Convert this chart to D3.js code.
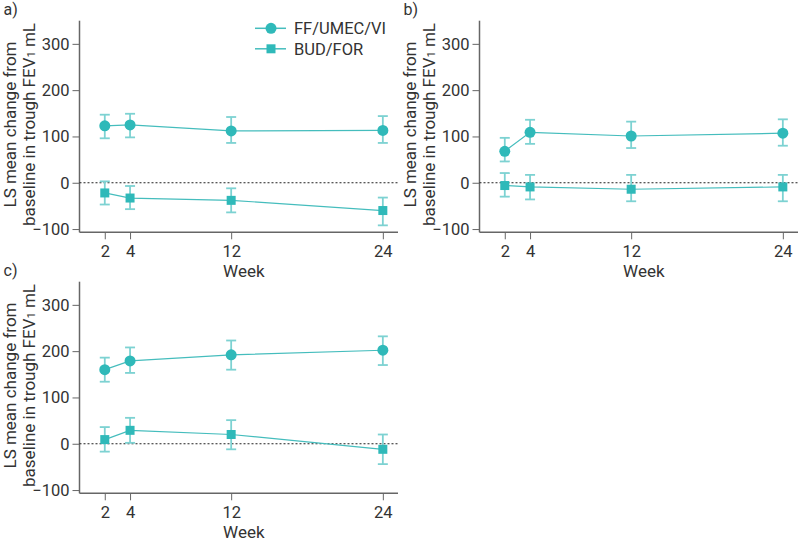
<!DOCTYPE html>
<meta charset="utf-8">
<html>
<head>
  <script src="https://d3js.org/d3.v7.min.js"></script>
  <style>
    body { margin: 0; background: #fff; font-family: Roboto, sans-serif; }
    text { fill: #333; }
    .axis path, .axis line { stroke: #666; }
    .axis text { font-size: 16.5px; fill: #333; font-family: Roboto, sans-serif; }
  </style>
</head>
<body>
  <svg width="798" height="542"></svg>
  <script>
    const weeks = [2, 4, 12, 24];
    const yTicks = [-100, 0, 100, 200, 300];
    const series = ["FF/UMEC/VI", "BUD/FOR"];
    const panels = ["a)", "b)", "c)"];

    // mean, lower, upper per week
    const aTriple = [123, 125, 112, 113];
    const aTripleLo = [96, 98, 86, 86];
    const aTripleHi = [147, 149, 142, 144];
    const aBud = [-22, -33, -38, -60];
    const aBudLo = [-47, -57, -64, -92];
    const aBudHi = [3, -7, -12, -32];

    const bTriple = [68, 109, 101, 107];
    const bTripleLo = [46, 84, 75, 80];
    const bTripleHi = [97, 136, 132, 137];
    const bBud = [-6, -9, -14, -9];
    const bBudLo = [-30, -36, -40, -40];
    const bBudHi = [21, 17, 17, 17];

    const cTriple = [160, 179, 192, 202];
    const cTripleLo = [134, 153, 160, 170];
    const cTripleHi = [186, 208, 223, 232];
    const cBud = [9, 29, 20, -12];
    const cBudLo = [-17, 2, -12, -44];
    const cBudHi = [36, 56, 51, 20];

    const teal = "#2fb9b9", tealLight = "#7dd2d2", tealLine = "#45bdbd";

    const svg = d3.select("svg");
    const w = 318.5, h = 211.6;

    const x = d3.scaleLinear().domain([0, 25.2]).range([0, w]);
    const y = d3.scaleLinear().domain([-107, 350]).range([h, 0]);

    const panelData = [
      {label: panels[0], dx: 79.5, dy: 20.7, sets: [[aTriple, aTripleLo, aTripleHi], [aBud, aBudLo, aBudHi]], legend: true},
      {label: panels[1], dx: 479.5, dy: 20.7, sets: [[bTriple, bTripleLo, bTripleHi], [bBud, bBudLo, bBudHi]]},
      {label: panels[2], dx: 79.5, dy: 281.7, sets: [[cTriple, cTripleLo, cTripleHi], [cBud, cBudLo, cBudHi]]}
    ];

    panelData.forEach(p => {
      const g = svg.append("g").attr("transform", `translate(${p.dx},${p.dy})`);

      svg.append("text")
        .attr("x", p.dx - 76).attr("y", p.dy - 6)
        .style("font-size", "16px")
        .text(p.label);

      g.append("g").attr("class", "axis")
        .call(d3.axisLeft(y).tickValues(yTicks).tickSize(7).tickPadding(3).tickFormat(d => d < 0 ? "\u2212" + Math.abs(d) : d))
        .call(s => s.select(".domain").attr("d", `M0,0V${h}`).attr("stroke-width", 1.5));

      g.append("g").attr("class", "axis")
        .attr("transform", `translate(0,${h})`)
        .call(d3.axisBottom(x).tickValues(weeks).tickSize(7).tickPadding(6))
        .call(s => s.select(".domain").attr("d", `M0,0H${w}`).attr("stroke-width", 1.5));

      g.append("text")
        .attr("x", x(13)).attr("y", h + 45)
        .attr("text-anchor", "middle")
        .style("font-size", "17px")
        .text("Week");

      const yl = g.append("text")
        .attr("transform", `translate(-64,${h / 2 - 2}) rotate(-90)`)
        .attr("text-anchor", "middle")
        .style("font-size", "17px");
      yl.append("tspan").attr("x", 0).attr("dy", "0").text("LS mean change from");
      yl.append("tspan").attr("x", 0).attr("dy", "19").text("baseline in trough FEV");
      yl.append("tspan").style("font-size", "11px").text("1");
      yl.append("tspan").text(" mL");

      g.append("line")
        .attr("x1", 0).attr("x2", w)
        .attr("y1", y(0)).attr("y2", y(0))
        .attr("stroke", "#222").attr("stroke-width", 1)
        .attr("stroke-dasharray", "2,2");

      p.sets.forEach((set, si) => {
        const pts = weeks.map((wk, i) => ({wk, m: set[0][i], lo: set[1][i], hi: set[2][i]}));

        g.append("path")
          .datum(pts)
          .attr("fill", "none")
          .attr("stroke", tealLine)
          .attr("stroke-width", 1.2)
          .attr("d", d3.line().x(d => x(d.wk)).y(d => y(d.m)));

        const eb = g.append("g").selectAll("g").data(pts).enter().append("g")
          .attr("stroke", tealLight).attr("stroke-width", 1.8);
        eb.append("line").attr("x1", d => x(d.wk)).attr("x2", d => x(d.wk))
          .attr("y1", d => y(d.lo)).attr("y2", d => y(d.hi));
        eb.append("line").attr("x1", d => x(d.wk) - 5).attr("x2", d => x(d.wk) + 5)
          .attr("y1", d => y(d.lo)).attr("y2", d => y(d.lo));
        eb.append("line").attr("x1", d => x(d.wk) - 5).attr("x2", d => x(d.wk) + 5)
          .attr("y1", d => y(d.hi)).attr("y2", d => y(d.hi));

        if (si === 0) {
          g.append("g").selectAll("circle").data(pts).enter().append("circle")
            .attr("cx", d => x(d.wk)).attr("cy", d => y(d.m))
            .attr("r", 5.5).attr("fill", teal);
        } else {
          g.append("g").selectAll("rect").data(pts).enter().append("rect")
            .attr("x", d => x(d.wk) - 4.5).attr("y", d => y(d.m) - 4.5)
            .attr("width", 9).attr("height", 9).attr("fill", teal);
        }
      });

      if (p.legend) {
        const lg = g.append("g").attr("transform", "translate(175.5,7.6)");
        series.forEach((s, i) => {
          const row = lg.append("g").attr("transform", `translate(0,${i * 20.5})`);
          row.append("line").attr("x1", 0).attr("x2", 31).attr("stroke", tealLine).attr("stroke-width", 1.5);
          if (i === 0) row.append("circle").attr("cx", 16).attr("r", 5.5).attr("fill", teal);
          else row.append("rect").attr("x", 11.5).attr("y", -4.5).attr("width", 9).attr("height", 9).attr("fill", teal);
          row.append("text").attr("x", 39).attr("y", 6).style("font-size", "16.5px").text(s);
        });
      }
    });
  </script>
</body>
</html>
